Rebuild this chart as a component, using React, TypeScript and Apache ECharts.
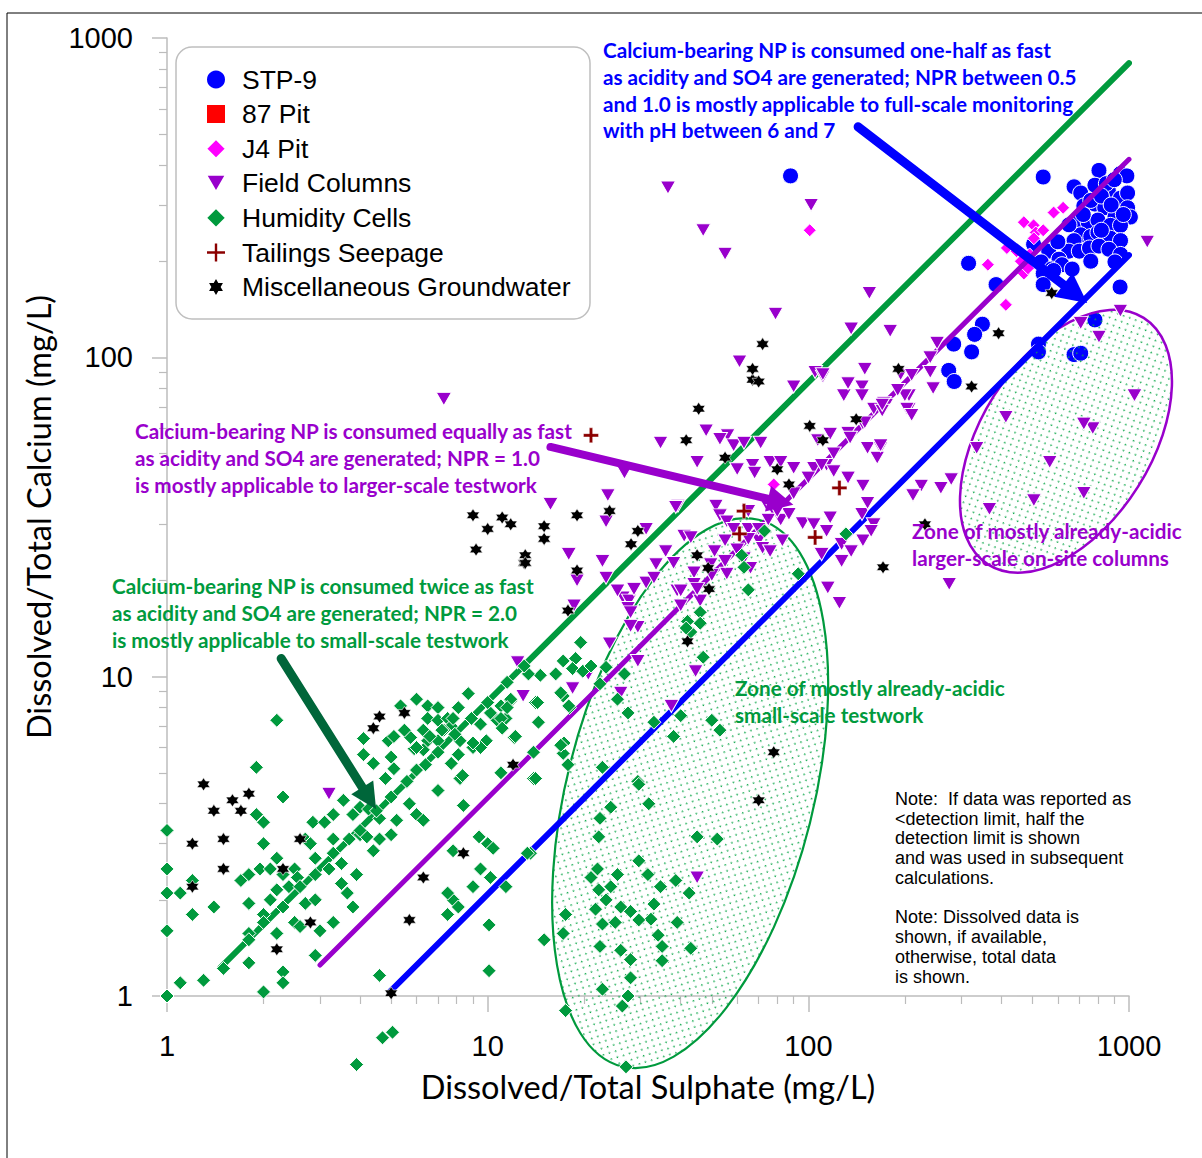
import React, { useEffect, useRef } from 'react';
import * as echarts from 'echarts';

const seriesNames = ['STP-9', '87 Pit', 'J4 Pit', 'Field Columns', 'Humidity Cells', 'Tailings Seepage', 'Miscellaneous Groundwater'];

// [sulphate mg/L, calcium mg/L]
const stp9 = [
  [88, 370], [540, 367], [806, 385], [940, 376], [985, 370], [674, 342], [707, 327], [783, 346], [862, 333], [940, 315],
  [990, 327], [723, 298], [783, 302], [840, 294], [904, 275], [990, 294], [1010, 275], [692, 269], [746, 265], [800, 269],
  [875, 259], [941, 259], [707, 242], [760, 239], [800, 246], [875, 236], [941, 232], [674, 232], [649, 215], [700, 215],
  [753, 220], [806, 223], [866, 218], [941, 210], [904, 199], [504, 226], [562, 215], [605, 203], [532, 199], [574, 189],
  [618, 195], [665, 189], [540, 183], [582, 187], [540, 169], [938, 166], [316, 197], [385, 169], [349, 127], [330, 118],
  [323, 104], [284, 110], [274, 91], [285, 84], [522, 110], [522, 104], [674, 102], [707, 103], [783, 131], [850, 350],
  [900, 360], [720, 280], [760, 310], [820, 320], [880, 300], [650, 260], [600, 230], [760, 200], [820, 250], [960, 280]
];
const pit87: number[][] = [];
const j4Pit = [
  [101, 250], [78, 40], [582, 284], [623, 294], [470, 265], [504, 259], [512, 246], [540, 250], [416, 220], [446, 215],
  [363, 195], [413, 146], [470, 183], [484, 190], [505, 236], [460, 200], [490, 210]
];
const fieldColumns = [
  [36.5, 340], [102, 300], [47, 250], [55, 211], [155, 159], [79, 137], [136, 123], [61, 97], [150, 92], [105, 90],
  [111, 87], [7.3, 74], [3.2, 4.3], [12.4, 11.1], [12.9, 8.7], [20.6, 10.2], [18.4, 9.2], [24, 12.7], [26, 8.9], [19, 20],
  [23.4, 20.4], [18.6, 16.7], [26.4, 17.7], [27.6, 17.3], [27.4, 16.4], [28.6, 18.8], [29.4, 14.3], [27.9, 14.4], [29.4, 11.2], [45, 2.35],
  [44.5, 10.4], [37.4, 8.1], [34.6, 54], [26.7, 43.5], [23.7, 37], [15.7, 34.7], [23.4, 30.6], [31.2, 29], [17.9, 24.2], [22.8, 23],
  [25.4, 18.6], [27.9, 15.9], [39.2, 34.3], [35.9, 24.7], [38, 22.7], [41, 27.6], [33.5, 22.5], [31.2, 19.7], [33, 20.4], [39, 18.6],
  [44, 21.2], [48, 59], [56, 57], [53, 55.5], [58.5, 53], [63, 54], [71, 54], [45, 47], [60, 44.6], [67, 46],
  [76, 47], [82, 47], [90, 45], [68, 43.5], [51.5, 34.3], [53, 32], [55.7, 30.6], [65, 33], [74, 34.7], [78, 33],
  [82, 31], [58.5, 29], [55, 26.7], [65, 29], [70, 26.7], [72, 25.3], [76, 24.7], [63, 23.5], [66, 21.9], [55.7, 21],
  [51, 24.7], [49.6, 22.5], [44, 19.5], [46, 17.3], [40, 18.6], [87, 32.3], [83, 26.7], [96, 30.2], [104, 30], [114, 28.6],
  [127, 26], [110, 24.2], [127, 23], [136, 24.7], [148, 26.7], [160, 30], [147, 32.3], [117, 31.5], [104, 45], [114, 46],
  [120, 44], [133, 42], [148, 39.6], [107, 55], [117, 57.6], [133, 58], [153, 52], [168, 52], [164, 48.5], [148, 62],
  [129, 76], [147, 81], [147, 76], [133, 83], [90, 81], [111, 88.5], [160, 69], [172, 72], [115, 19], [125, 17],
  [153, 35], [157, 28.6], [206, 76], [206, 69], [175, 71], [170, 68], [43, 27.3], [38.6, 34], [1040, 76], [1140, 230],
  [180, 121], [252, 111], [240, 90], [245, 80], [194, 88.5], [200, 76], [203, 69], [210, 66], [168, 53], [940, 140],
  [707, 128], [806, 116], [413, 65], [771, 60], [723, 62], [335, 52], [566, 47], [723, 37.6], [505, 35.7], [367, 33.5],
  [279, 41.5], [259, 39], [225, 39.6], [212, 37], [275, 19.5], [40, 16.7], [45, 18.8], [50, 20.8], [55, 23], [60, 25],
  [65, 27], [70, 29], [75, 31], [80, 33], [90, 37.5], [100, 42], [110, 46], [120, 50], [135, 56], [150, 62.5],
  [170, 71], [190, 79], [210, 88], [240, 100]
];
const humidityCells = [
  [2.2, 7.3], [1.9, 5.2], [2.3, 4.2], [1.9, 3.7], [2.0, 3.5], [1, 3.3], [2.0, 3.0], [1, 2.5], [1, 2.1], [1.1, 2.1],
  [1.2, 2.3], [1.4, 1.9], [1.2, 1.8], [1, 1.6], [1.8, 1.95], [1.7, 2.3], [1.8, 2.4], [1.95, 2.5], [2.1, 2.5], [2.2, 2.7],
  [2.3, 2.4], [2.5, 2.5], [2.55, 2.35], [2.1, 2.0], [2.2, 2.15], [2.4, 2.2], [2.0, 1.8], [2.7, 3.1], [2.8, 3.0], [2.85, 3.5],
  [3.1, 3.5], [3.3, 3.1], [3.3, 3.7], [2.9, 2.7], [3.2, 2.5], [3.5, 2.6], [3.9, 2.4], [3.5, 2.25], [3.65, 2.1], [3.8, 1.9],
  [2.7, 1.95], [2.9, 2.0], [2.5, 1.7], [2.6, 1.65], [3.0, 1.6], [3.3, 1.7], [2.2, 1.57], [1.8, 1.57], [1.5, 1.22], [1.8, 1.27],
  [1.3, 1.12], [1.1, 1.1], [1, 1], [2.0, 1.03], [2.3, 1.19], [2.3, 1.1], [2.9, 1.34], [4.6, 1.16], [3.55, 4.1], [3.8, 3.7],
  [4.0, 3.9], [4.25, 3.85], [4.6, 3.6], [4.0, 3.2], [4.2, 3.15], [4.4, 2.85], [4.6, 3.1], [5.0, 3.2], [5.2, 3.55], [5.7, 4.0],
  [6.0, 3.7], [6.3, 3.55], [4.1, 6.4], [4.1, 5.7], [4.4, 5.35], [4.9, 6.3], [5.1, 6.5], [5.0, 5.6], [5.1, 5.15], [4.8, 4.8],
  [5.35, 8.1], [6.0, 8.5], [6.5, 8.1], [7.0, 8.0], [6.5, 7.4], [7.0, 7.3], [7.5, 7.4], [7.7, 7.0], [5.75, 6.45], [6.3, 6.8],
  [6.5, 6.3], [5.9, 5.95], [6.3, 5.9], [7.0, 6.3], [7.3, 6.8], [7.7, 5.35], [8.2, 4.8], [7.0, 4.4], [8.4, 3.95], [9.4, 3.15],
  [10, 3.0], [9.5, 2.5], [10.4, 2.9], [10.2, 2.35], [9.0, 2.2], [7.8, 2.0], [7.5, 2.1], [8.1, 1.9], [7.5, 1.8], [10.1, 1.67],
  [10.1, 1.2], [8.7, 8.85], [9.5, 7.1], [9.9, 6.3], [10.7, 7.3], [8.1, 8.0], [7.8, 7.4], [9.0, 6.0], [9.5, 6.0], [15, 1.5],
  [11.4, 2.2], [13.9, 4.8], [13.6, 2.8], [11, 8.1], [11.8, 8.4], [14.1, 8.3], [14.4, 7.2], [17.2, 8.7], [18, 8.0], [11.4, 7.4],
  [12.1, 6.45], [17.2, 5.75], [17.8, 5.3], [13.9, 5.8], [11, 5.0], [14.1, 4.8], [8.1, 5.7], [6.0, 5.1], [6.6, 6.5], [6.0, 6.0],
  [5.5, 6.8], [19.5, 12.8], [18.8, 11.4], [17.2, 11.2], [18.4, 10.6], [19.8, 10.4], [16.3, 10.2], [21, 10.8], [23.4, 10.7], [26.7, 10.2],
  [14.6, 10.1], [13.4, 10.2], [14.3, 8.3], [11.8, 8.5], [11.5, 8.0], [11, 7.4], [11.1, 6.9], [12.2, 6.5], [10.2, 7.7], [7.2, 6.8],
  [8.2, 6.3], [9.0, 6.2], [8.35, 4.9], [7.8, 2.85], [13.3, 2.8], [16.9, 8.9], [17.9, 8.1], [22.4, 9.5], [25.4, 8.5], [27.4, 7.7],
  [22.8, 5.2], [22.4, 3.6], [24.2, 3.9], [22.2, 3.15], [29.4, 4.7], [17.3, 6.2], [93, 21], [65, 18.7], [46, 15.9], [42, 14.9],
  [46, 14.7], [43, 13.8], [47, 11.5], [40, 7.55], [38, 6.5], [50, 7.3], [53, 6.8], [33, 7.2], [29.6, 4.6], [31.8, 4.0],
  [45, 3.15], [52, 3.1], [29.6, 2.65], [31.6, 2.4], [22, 2.5], [25.4, 2.4], [21, 2.35], [22.2, 2.15], [24.2, 2.2], [34.6, 2.2],
  [38.6, 2.3], [42.5, 2.1], [23.4, 2.0], [21.7, 1.87], [26, 1.9], [27.9, 1.84], [33, 1.94], [32.3, 1.74], [29.6, 1.73], [39, 1.7],
  [22.8, 1.68], [25, 1.7], [34, 1.55], [35, 1.43], [43, 1.41], [22.4, 1.43], [26, 1.39], [27.9, 1.3], [35, 1.29], [27.9, 1.14],
  [22.8, 1.05], [27.4, 1.0], [26.3, 0.93], [17.5, 1.8], [17.2, 1.57], [17.5, 0.9], [27, 0.6], [16.9, 6.1], [4.7, 0.74], [5.05, 0.77],
  [3.9, 0.61], [73, 28.6], [131, 28], [62, 24], [63, 22], [41.6, 14.2], [1.8, 1.5], [2.0, 1.7], [2.3, 1.9], [2.6, 2.2],
  [2.9, 2.4], [3.3, 2.8], [3.7, 3.1], [4.0, 3.3], [4.5, 3.8], [5.0, 4.2], [5.6, 4.7], [6.4, 5.3], [7.0, 5.8], [7.9, 6.6],
  [8.9, 7.4], [10, 8.3], [11.5, 9.6], [13, 10.8]
];
const tailingsSeepage = [[21, 57], [63, 33], [125, 39], [105, 27.3], [61, 28]];
const miscGroundwater = [
  [1.3, 4.6], [1.6, 4.1], [1.8, 4.3], [1.4, 3.8], [1.7, 3.8], [1.2, 3.0], [1.5, 3.1], [1.5, 2.5], [1.2, 2.2], [4.6, 7.5],
  [4.4, 6.9], [5.5, 7.7], [2.6, 3.1], [2.3, 2.5], [2.8, 1.7], [2.2, 1.4], [6.3, 2.35], [5.7, 1.73], [5.0, 1.02], [8.4, 2.8],
  [12, 5.3], [19, 21.5], [13, 22.7], [17.8, 16.1], [45.5, 69], [41.6, 55], [101, 61], [87, 40], [55, 48.5], [80, 44.6],
  [141, 64], [111, 55], [19, 32], [24, 33], [15, 29.6], [15, 27], [11.1, 31.5], [11.8, 30], [9.0, 32], [10, 29],
  [9.2, 25], [13.1, 24], [13.1, 22.7], [28, 26], [29.4, 28.6], [45, 24], [48.7, 21.9], [49, 18.8], [171, 22], [67, 85],
  [70, 84], [67, 92], [72, 110], [574, 159], [392, 119], [323, 81], [231, 30], [191, 92], [78, 5.8], [70, 4.1], [42, 12.9]
];

// reference lines (NPR = 2.0, 1.0, 0.5)
const npr2Line = [[1.47, 1.23], [1000, 834]];
const npr1Line = [[3, 1.25], [1000, 417]];
const npr05Line = [[4.95, 1.03], [1000, 209]];

// annotation arrows [start, end]
const blueArrow = [[143, 527], [680, 158]];
const purpleArrow = [[15.7, 52.4], [82, 35.3]];
const greenArrow = [[2.27, 11.4], [4.27, 4.16]];

// ellipse centres (data coords)
const greenZoneCentre = [42.8, 4.32];
const purpleZoneCentre = [636, 54.6];

const xTickValues = [1, 10, 100, 1000];

const blueText = 'Calcium-bearing NP is consumed one-half as fast\nas acidity and SO4 are generated; NPR between 0.5\nand 1.0 is mostly applicable to full-scale monitoring\nwith pH between 6 and 7';
const purpleText = 'Calcium-bearing NP is consumed equally as fast\nas acidity and SO4 are generated; NPR = 1.0\nis mostly applicable to larger-scale testwork';
const greenText = 'Calcium-bearing NP is consumed twice as fast\nas acidity and SO4 are generated; NPR = 2.0\nis mostly applicable to small-scale testwork';
const greenZoneText = 'Zone of mostly already-acidic\nsmall-scale testwork';
const purpleZoneText = 'Zone of mostly already-acidic\nlarger-scale on-site columns';
const noteText = 'Note:  If data was reported as\n<detection limit, half the\ndetection limit is shown\nand was used in subsequent\ncalculations.\n\nNote: Dissolved data is\nshown, if available,\notherwise, total data\nis shown.';

const TRI_DOWN = 'path://M0,0L10,0L5,8.6Z';
const PLUS = 'path://M3.9,0H6.1V3.9H10V6.1H6.1V10H3.9V6.1H0V3.9H3.9Z';
const STAR6 = 'path://M5,0L6.44,2.5L9.33,2.5L7.89,5L9.33,7.5L6.44,7.5L5,10L3.56,7.5L0.67,7.5L2.11,5L0.67,2.5L3.56,2.5Z';

const GREEN = '#009a3d';
const PURPLE = '#9900cc';
const BLUE = '#0000ff';

export default function App() {
  const ref = useRef<HTMLDivElement>(null);
  useEffect(() => {
    document.body.style.margin = '0';
    if (!ref.current) return;
    const chart = echarts.init(ref.current, null, { renderer: 'svg' });

    const axisColor = '#bcbcbc';
    const scatterBase = (name: string, data: number[][], symbol: string, size: any, color: string, z: number, bw = 1) => ({
      type: 'scatter', name, data, symbol, symbolSize: size, z, clip: false, silent: true,
      itemStyle: { color, borderColor: '#ffffff', borderWidth: bw, opacity: 1 }
    });
    const refLine = (name: string, data: number[][], color: string, width: number) => ({
      type: 'line', name, data, symbol: 'none', showSymbol: false, clip: false, silent: true, z: 2,
      lineStyle: { color, width, cap: 'round' }
    });
    const arrow = (data: number[][], color: string, width: number, head: number) => ({
      type: 'lines', coordinateSystem: 'cartesian2d', z: 10, silent: true,
      symbol: ['none', 'triangle'], symbolSize: head,
      lineStyle: { color, width, opacity: 1, cap: 'round', curveness: 0 },
      data: [{ coords: data }]
    });

    chart.setOption({
      animation: false,
      backgroundColor: '#ffffff',
      grid: { left: 167, right: 73, top: 38, bottom: 162, containLabel: false },
      xAxis: {
        type: 'log', logBase: 10, min: xTickValues[0], max: xTickValues[3],
        name: 'Dissolved/Total Sulphate (mg/L)', nameLocation: 'middle', nameGap: 74,
        nameTextStyle: { fontFamily: 'Lato', fontSize: 32.5, color: '#000' },
        axisLine: { show: true, lineStyle: { color: axisColor, width: 1.5 } },
        axisTick: { show: true, inside: false, length: 16, lineStyle: { color: axisColor, width: 1.5 } },
        minorTick: { show: true, splitNumber: 9, length: 8, lineStyle: { color: axisColor, width: 1.2 } },
        axisLabel: { fontFamily: 'Liberation Sans', fontSize: 29, color: '#000', margin: 35, formatter: (v: number) => String(v) },
        splitLine: { show: false }
      },
      yAxis: {
        type: 'log', logBase: 10, min: 1, max: 1000,
        name: 'Dissolved/Total Calcium (mg/L)', nameLocation: 'middle', nameGap: 112, nameRotate: 90,
        nameTextStyle: { fontFamily: 'Lato', fontSize: 32.5, color: '#000' },
        axisLine: { show: true, lineStyle: { color: axisColor, width: 1.5 } },
        axisTick: { show: true, inside: false, length: 15, lineStyle: { color: axisColor, width: 1.5 } },
        minorTick: { show: true, splitNumber: 9, length: 8, lineStyle: { color: axisColor, width: 1.2 } },
        axisLabel: { fontFamily: 'Liberation Sans', fontSize: 29, color: '#000', margin: 34, formatter: (v: number) => String(v) },
        splitLine: { show: false }
      },
      legend: {
        data: seriesNames, orient: 'vertical', left: 200, top: 61,
        itemWidth: 20, itemHeight: 20, itemGap: 7.6, selectedMode: false,
        textStyle: { fontFamily: 'Liberation Sans', fontSize: 26.5, color: '#000', lineHeight: 26, padding: [0, 0, 0, 11] }
      },
      series: [
        refLine('NPR 2.0', npr2Line, GREEN, 6),
        refLine('NPR 1.0', npr1Line, PURPLE, 5),
        refLine('NPR 0.5', npr05Line, BLUE, 6),
        scatterBase(seriesNames[0], stp9, 'circle', 16, BLUE, 1.5),
        scatterBase(seriesNames[1], pit87, 'rect', 13, '#ff0000', 3),
        scatterBase(seriesNames[2], j4Pit, 'diamond', 13, '#ff00ff', 1.5),
        scatterBase(seriesNames[3], fieldColumns, TRI_DOWN, [15, 13], PURPLE, 3),
        scatterBase(seriesNames[4], humidityCells, 'diamond', 14, GREEN, 3),
        scatterBase(seriesNames[5], tailingsSeepage, PLUS, 15, '#8b0000', 3, 0.4),
        scatterBase(seriesNames[6], miscGroundwater, STAR6, 13, '#000000', 3, 0.6),
        arrow(blueArrow, BLUE, 9, 30),
        arrow(purpleArrow, PURPLE, 8, 26),
        arrow(greenArrow, '#00663a', 9, 26)
      ]
    });

    const cv = document.createElement('canvas');
    cv.width = 9; cv.height = 9;
    const ctx = cv.getContext('2d');
    if (ctx) {
      ctx.fillStyle = '#10a84c';
      ctx.fillRect(1, 1, 1.5, 1.5);
      ctx.fillRect(5.5, 5.5, 1.5, 1.5);
    }
    const dotUrl = cv.toDataURL();
    const dots = (rot: number) => ({ image: dotUrl, repeat: 'repeat', imageWidth: 9, imageHeight: 9, rotation: rot });

    const gc = chart.convertToPixel({ gridIndex: 0 }, greenZoneCentre) as number[];
    const pc = chart.convertToPixel({ gridIndex: 0 }, purpleZoneCentre) as number[];

    const txt = (x: number, y: number, text: string, fill: string, font: string, lh: number) => ({
      type: 'text', x, y, z: 20, silent: true,
      style: { text, fill, font, lineHeight: lh, textVerticalAlign: 'top', verticalAlign: 'top', align: 'left' }
    });
    const annFont = 'bold 20.7px Lato';

    chart.setOption({
      graphic: [
        { type: 'line', z: 0, silent: true, shape: { x1: 7, y1: 13, x2: 1202, y2: 13 }, style: { stroke: '#000', lineWidth: 1 } },
        { type: 'line', z: 0, silent: true, shape: { x1: 7, y1: 13, x2: 7, y2: 1158 }, style: { stroke: '#000', lineWidth: 1 } },
        {
          type: 'ellipse', x: gc[0], y: gc[1], rotation: -0.245, z: 2, silent: true,
          shape: { cx: 0, cy: 0, rx: 123.5, ry: 281.8 },
          style: { fill: dots(0.245), stroke: GREEN, lineWidth: 2.2 }
        },
        {
          type: 'ellipse', x: pc[0], y: pc[1], rotation: -0.562, z: 2, silent: true,
          shape: { cx: 0, cy: 0, rx: 85.2, ry: 145.8 },
          style: { fill: dots(0.562), stroke: PURPLE, lineWidth: 2.5 }
        },
        {
          type: 'rect', z: 1, silent: true,
          shape: { x: 176, y: 47, width: 414, height: 272, r: 16 },
          style: { fill: '#ffffff', stroke: '#bfbfbf', lineWidth: 1.5 }
        },
        txt(603, 37, blueText, BLUE, annFont, 26.7),
        txt(135, 418, purpleText, PURPLE, annFont, 26.7),
        txt(112, 573, greenText, GREEN, annFont, 26.7),
        txt(735, 675, greenZoneText, GREEN, annFont, 26.7),
        txt(912, 518, purpleZoneText, PURPLE, annFont, 26.7),
        txt(895, 789, noteText, '#000000', '18px "Liberation Sans"', 19.75)
      ]
    });

    return () => chart.dispose();
  }, []);
  return <div ref={ref} style={{ width: 1202, height: 1158 }} />;
}
